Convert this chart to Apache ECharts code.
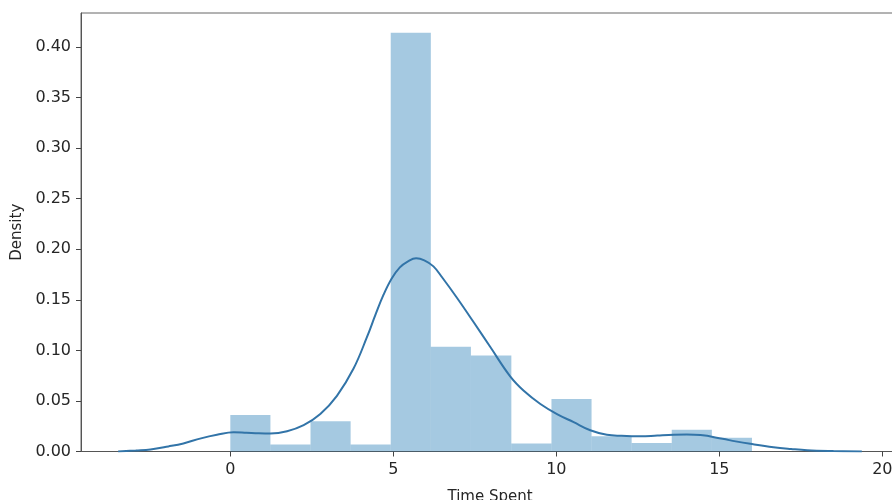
<!DOCTYPE html>
<html>
<head>
<meta charset="utf-8">
<script src="https://cdn.jsdelivr.net/npm/echarts@6/dist/echarts.min.js"></script>
<style>
  html, body { margin: 0; padding: 0; background: #fff; }
  #chart { width: 892px; height: 500px; }
</style>
</head>
<body>
<div id="chart"></div>
<script>
// histogram bins (Time Spent) and their density
var binEdges = [0, 1.23, 2.46, 3.69, 4.92, 6.15, 7.38, 8.62, 9.85, 11.08, 12.31, 13.54, 14.77, 16.0];
var binDensity = [0.036, 0.007, 0.030, 0.007, 0.414, 0.1035, 0.095, 0.008, 0.052, 0.015, 0.0085, 0.0215, 0.0135];

// kde curve
var kdeX = [-3.44, -2.9, -2.45, -1.9, -1.44, -0.9, -0.41, 0.1, 0.5, 0.87, 1.23, 1.74, 2.25, 2.76, 3.27, 3.78,
            4.19, 4.45, 4.7, 4.95, 5.2, 5.45, 5.7, 5.95, 6.23, 6.5, 6.95, 7.46, 7.98, 8.59, 9.0, 9.51, 10.02,
            10.53, 11.04, 11.55, 12.0, 12.58, 13.1, 13.6, 14.0, 14.42, 15.1, 15.5, 15.95, 16.66, 17.2,
            17.69, 18.5, 19.37];
var kdeY = [0.000, 0.001, 0.002, 0.005, 0.008, 0.013, 0.0165, 0.019, 0.0185, 0.018, 0.0178, 0.020, 0.026,
            0.037, 0.055, 0.082, 0.113, 0.135, 0.155, 0.171, 0.182, 0.188, 0.191, 0.189, 0.183, 0.172, 0.152,
            0.128, 0.103, 0.074, 0.060, 0.047, 0.037, 0.029, 0.021, 0.0165, 0.0155, 0.015, 0.0158,
            0.0165, 0.0167, 0.0162, 0.0125, 0.010, 0.0076, 0.0043, 0.0025, 0.0012, 0.0004, 0.000];

var xTicks = [0, 5, 10, 15, 20];
var yTicks = [0, 0.05, 0.10, 0.15, 0.20, 0.25, 0.30, 0.35, 0.40];

var histData = binDensity.map(function (d, i) {
    return [binEdges[i], binEdges[i + 1], d];
});
var kdeData = kdeX.map(function (x, i) {
    return [x, kdeY[i]];
});

var chart = echarts.init(document.getElementById('chart'));
var spine = { show: true, onZero: false, lineStyle: { color: '#555', width: 1 } };
var font = { fontFamily: 'DejaVu Sans', fontSize: 16, color: '#262626' };
var nameFont = { fontFamily: 'DejaVu Sans', fontSize: 15, color: '#262626' };

chart.setOption({
    animation: false,
    grid: {
        left: 81, top: 13, width: 818, height: 438.5,
        containLabel: false, outerBoundsMode: 'none',
        show: true, borderColor: '#666', borderWidth: 1
    },
    xAxis: {
        type: 'value',
        min: -4.58,
        max: 20.51,
        name: 'Time Spent',
        nameLocation: 'middle',
        nameGap: 38,
        nameTextStyle: nameFont,
        axisLine: spine,
        splitLine: { show: false },
        axisTick: { show: true, length: 5, customValues: xTicks, lineStyle: { color: '#444' } },
        axisLabel: Object.assign({ margin: 10, customValues: xTicks }, font)
    },
    yAxis: {
        type: 'value',
        min: 0,
        max: 0.4335,
        name: 'Density',
        nameLocation: 'middle',
        nameGap: 56,
        nameTextStyle: nameFont,
        axisLine: spine,
        splitLine: { show: false },
        axisTick: { show: true, length: 5, customValues: yTicks, lineStyle: { color: '#444' } },
        axisLabel: Object.assign({
            margin: 10,
            customValues: yTicks,
            formatter: function (v) { return v.toFixed(2); }
        }, font)
    },
    series: [
        {
            type: 'custom',
            data: histData,
            renderItem: function (params, api) {
                var p0 = api.coord([api.value(0), api.value(2)]);
                var p1 = api.coord([api.value(1), 0]);
                return {
                    type: 'rect',
                    shape: { x: p0[0], y: p0[1], width: p1[0] - p0[0], height: p1[1] - p0[1] },
                    style: { fill: 'rgba(31,119,180,0.4)' }
                };
            },
            encode: { x: [0, 1], y: 2 },
            z: 1
        },
        {
            type: 'line',
            data: kdeData,
            smooth: 0.4,
            showSymbol: false,
            lineStyle: { color: '#3274a8', width: 2 },
            z: 2
        }
    ]
});
</script>
</body>
</html>
